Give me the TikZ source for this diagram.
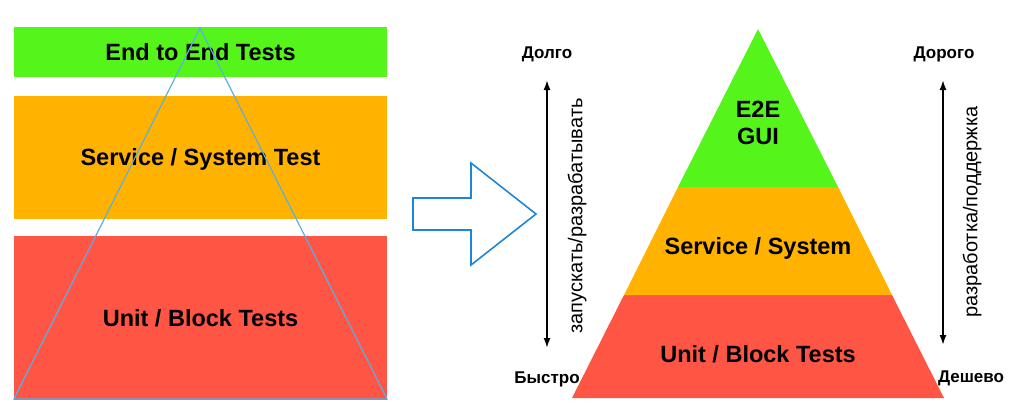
\documentclass[tikz,border=0pt]{standalone}
\usepackage{fontspec}
\setmainfont{Liberation Sans}
\usetikzlibrary{arrows.meta}
\definecolor{e2e}{HTML}{55F51C}
\definecolor{svc}{HTML}{FFB300}
\definecolor{unit}{HTML}{FF5545}
\definecolor{outline}{HTML}{1E86D8}
\definecolor{guide}{HTML}{58AEE6}
\tikzset{band/.style={minimum width=373pt,inner sep=0pt,text height=16.8pt,text depth=0pt,
  font=\fontsize{23.5}{27}\selectfont\bfseries},
lvl/.style={inner sep=0pt,text height=16.8pt,text depth=0pt,font=\fontsize{23.5}{27}\selectfont\bfseries},
axis/.style={{Latex[length=10pt,width=7pt]}-{Latex[length=10pt,width=7pt]},line width=1.7pt},
endlab/.style={inner sep=0pt,font=\fontsize{17}{19}\selectfont\bfseries},
sidelab/.style={rotate=90,inner sep=0pt,font=\fontsize{20}{22}\selectfont}}
\begin{document}
\begin{tikzpicture}[x=1pt,y=-1pt]
\useasboundingbox (0,0) rectangle (1011,418);
\node[band,fill=e2e,minimum height=50pt] (e2eband) at (200.5,52) {End to End Tests};
\node[band,fill=svc,minimum height=123pt] (svcband) at (200.5,157.5) {Service / System Test};
\node[band,fill=unit,minimum height=164pt] (unitband) at (200.5,318) {Unit / Block Tests};
\draw[guide,line width=1.2pt] (200,28)--(387,399)--(14,399)--cycle;
\draw[outline,line width=1.6pt] (413,198)--(471,198)--(471,163)--(536,214)--(471,265)--(471,230)--(413,230)--cycle;
\fill[unit] (624,295)--(892,295)--(944,398)--(572,398)--cycle;
\fill[svc] (678,187)--(838,187)--(892,295)--(624,295)--cycle;
\fill[e2e] (758,29)--(838,187)--(678,187)--cycle;
\node[align=center,inner sep=0pt,font=\fontsize{23.5}{27}\selectfont\bfseries] (gui) at (758,123) {E2E\\GUI};
\node[lvl] (system) at (758,246) {Service / System};
\node[lvl] (unitlvl) at (758,354) {Unit / Block Tests};
\node[endlab] (dolgo) at (547,54) {Долго};
\node[endlab] (bystro) at (547,379) {Быстро};
\node[endlab] (dorogo) at (944,54) {Дорого};
\node[endlab] (deshevo) at (971,378) {Дешево};
\coordinate (slowtop) at (547,80);
\coordinate (slowbot) at (547,348);
\coordinate (costtop) at (943,80);
\coordinate (costbot) at (943,345);
\draw[axis] (slowtop)--(slowbot);
\draw[axis] (costtop)--(costbot);
\node[sidelab] (runlab) at (577,216) {запускать/разрабатывать};
\node[sidelab] (costlab) at (972,212) {разработка/поддержка};
\end{tikzpicture}
\end{document}
